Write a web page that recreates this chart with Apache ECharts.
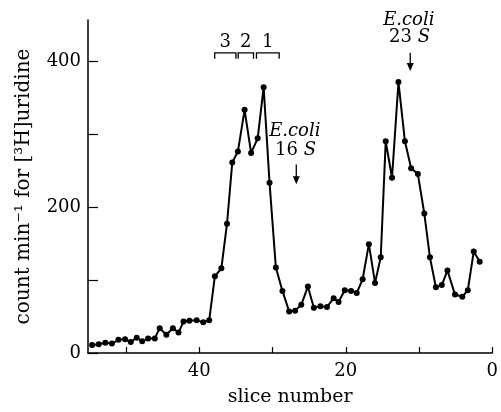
<!DOCTYPE html>
<html>
<head>
<meta charset="utf-8">
<script src="https://cdn.jsdelivr.net/npm/echarts@6/dist/echarts.min.js"></script>
<style>html,body{margin:0;padding:0;background:#fff}#c{width:501px;height:412px}</style>
</head>
<body>
<div id="c"></div>
<script>
// slice numbers (x) and counts (y)
var slices = [54.64,53.74,52.84,51.93,51.04,50.14,49.36,48.55,47.80,46.99,46.08,45.41,44.50,43.61,42.84,42.16,41.35,40.36,39.46,38.65,37.88,36.99,36.22,35.50,34.73,33.82,32.93,32.03,31.22,30.41,29.55,28.65,27.74,26.92,26.08,25.18,24.36,23.47,22.57,21.66,20.99,20.14,19.28,18.51,17.70,16.85,16.01,15.23,14.55,13.69,12.81,11.93,11.08,10.16,9.28,8.51,7.70,6.89,6.12,5.09,4.09,3.34,2.53,1.72];
var counts = [11,12,14,13,18,19,15,21,16,20,20,34,25,34,28,43,44,45,42,45,105,116,177,261,276,333,274,294,364,233,117,85,57,58,66,91,62,64,63,75,70,86,85,82,101,149,96,131,290,240,371,290,253,245,191,131,90,93,113,80,77,86,139,125];
var xLabelValues = [0,20,40];
var xTickValues = [0,10,20,30,40,50];
var yLabelValues = [0,200,400];
var yTickValues = [0,100,200,300,400];
// fraction brackets (slice ranges) and labels
var fractionNames = ['3','2','1'];
var fractionRanges = [[37.9,35.0],[34.7,32.6],[32.2,29.1]];
var markerSlices = {s16: 26.76, s23: 11.2};

var data = slices.map(function(s,i){return [s,counts[i]];});
var serif = 'DejaVu Serif';
var chart = echarts.init(document.getElementById('c'), null, {renderer:'canvas'});
chart.setOption({
  animation:false,
  backgroundColor:'#fff',
  grid:{left:88,right:4,top:20,bottom:58,containLabel:false},
  xAxis:{
    type:'value', inverse:true, min:0, max:55.2,
    name:'slice number', nameLocation:'middle', nameGap:35,
    nameTextStyle:{fontFamily:serif,fontSize:19,color:'#000'},
    axisLine:{onZero:false,lineStyle:{color:'#000',width:1.5}},
    axisTick:{inside:true,length:6,lineStyle:{color:'#000',width:1.2},customValues:xTickValues},
    axisLabel:{fontFamily:serif,fontSize:18,color:'#000',margin:9,customValues:xLabelValues,showMaxLabel:true},
    splitLine:{show:false}
  },
  yAxis:{
    type:'value', min:0, max:456, position:'left',
    name:'count min\u207B\u00B9 for [\u00B3H]uridine', nameLocation:'middle', nameGap:54, nameRotate:90,
    nameTextStyle:{fontFamily:serif,fontSize:20,color:'#000'},
    axisLine:{show:true,onZero:false,lineStyle:{color:'#000',width:1.5}},
    axisTick:{show:true,inside:true,length:10,lineStyle:{color:'#000',width:1.2},customValues:yTickValues},
    axisLabel:{fontFamily:serif,fontSize:18,color:'#000',margin:7,customValues:yLabelValues},
    splitLine:{show:false}
  },
  series:[{
    type:'line', data:data, symbol:'circle', symbolSize:6,
    itemStyle:{color:'#000'}, lineStyle:{color:'#000',width:2}
  }]
});

function px(s,v){return chart.convertToPixel({xAxisIndex:0,yAxisIndex:0},[s,v]);}
var g = [];
fractionRanges.forEach(function(r,i){
  var a = px(r[0],411), b = px(r[1],411), a2 = px(r[0],403), b2 = px(r[1],403);
  g.push({type:'polyline',shape:{points:[a2,a,b,b2]},style:{stroke:'#000',lineWidth:1.3,fill:null}});
  var c = px((r[0]+r[1])/2,426);
  g.push({type:'text',x:c[0],y:c[1],style:{text:fractionNames[i],font:'18px '+serif,fill:'#000',align:'center',verticalAlign:'middle'}});
});
function marker(s, vE, vN, vA0, vA1, num){
  var e = px(s+0.2,vE), n = px(s+0.1,vN), a0 = px(s,vA0), a1 = px(s,vA1);
  g.push({type:'text',x:e[0],y:e[1],style:{text:'E.coli',font:'italic 18px '+serif,fill:'#000',align:'center',verticalAlign:'middle'}});
  g.push({type:'text',x:n[0],y:n[1],style:{text:'{n|'+num+' }{s|S}',rich:{n:{fontFamily:serif,fontSize:18,fill:'#000'},s:{fontFamily:serif,fontStyle:'italic',fontSize:18,fill:'#000'}},align:'center',verticalAlign:'middle'}});
  g.push({type:'line',shape:{x1:a0[0],y1:a0[1],x2:a1[0],y2:a1[1]-5},style:{stroke:'#000',lineWidth:1.3}});
  g.push({type:'polygon',shape:{points:[[a1[0]-3.5,a1[1]-8],[a1[0]+3.5,a1[1]-8],[a1[0],a1[1]]]},style:{fill:'#000'}});
}
marker(markerSlices.s16, 304, 277, 258, 231, '16');
marker(markerSlices.s23, 456, 432, 411, 386, '23');
chart.setOption({graphic:{elements:g}});
</script>
</body>
</html>
